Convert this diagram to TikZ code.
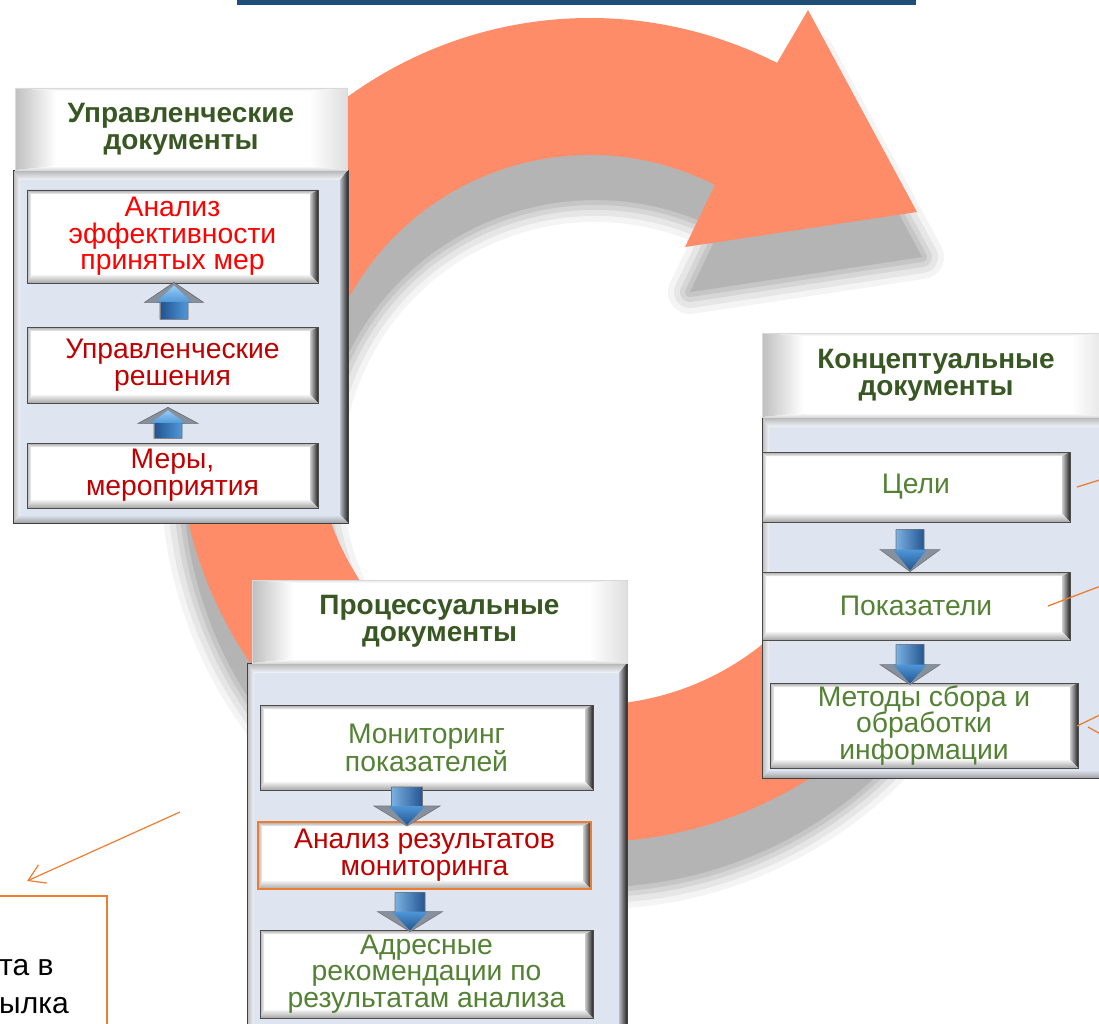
\documentclass[tikz,border=0pt]{standalone}
\usepackage{fontspec}
\setmainfont{Liberation Sans}
\usetikzlibrary{calc,arrows.meta}
\definecolor{ringc}{RGB}{255,140,105}
\definecolor{barc}{RGB}{31,78,121}
\definecolor{hdrg}{RGB}{56,87,35}
\definecolor{txtg}{RGB}{84,130,53}
\definecolor{panelbg}{RGB}{222,229,241}
\definecolor{orl}{RGB}{237,125,49}
\definecolor{dred}{RGB}{192,0,0}
\definecolor{arrlight}{RGB}{150,205,245}
\definecolor{arrmid}{RGB}{79,150,215}
\definecolor{arrdark}{RGB}{35,85,145}
\definecolor{arrgray}{RGB}{135,145,158}

\newcommand\ringpath{($(590,430)+(15:412)$) arc[start angle=15,end angle=297,radius=412] -- (808,10) -- (917,212) -- (685,247) -- ($(590,430)+(297:275)$) arc[start angle=297,end angle=15,radius=275] -- cycle}

\newcommand\bev[8]{%
  \coordinate (pNW) at (path picture bounding box.north west);
  \coordinate (pNE) at (path picture bounding box.north east);
  \coordinate (pSE) at (path picture bounding box.south east);
  \coordinate (pSW) at (path picture bounding box.south west);
  \coordinate (qNW) at ($(pNW)+(#4,#1)$);
  \coordinate (qNE) at ($(pNE)+(-#2,#1)$);
  \coordinate (qSE) at ($(pSE)+(-#2,-#3)$);
  \coordinate (qSW) at ($(pSW)+(#4,-#3)$);
  \shade[#5] (pNW)--(pNE)--(qNE)--(qNW)--cycle;
  \shade[#6] (pNE)--(pSE)--(qSE)--(qNE)--cycle;
  \shade[#7] (pSW)--(pSE)--(qSE)--(qSW)--cycle;
  \shade[#8] (pNW)--(pSW)--(qSW)--(qNW)--cycle;
}

\newcommand\hfont{\fontsize{28}{27}\selectfont\bfseries}
\newcommand\bfont{\fontsize{28.3}{26.7}\selectfont}

\tikzset{
  hdrbox/.style={draw=gray!30, line width=0.5, fill=white, inner sep=0, align=center,
    font=\hfont, text=hdrg,
    path picture={\bev{3}{38}{4}{41}{top color=gray!20,bottom color=white}{left color=white,right color=gray!25}{top color=white,bottom color=gray!30}{left color=gray!50,right color=white}}},
  bodybox/.style={draw=gray!50!black, line width=0.8, fill=panelbg, inner sep=0,
    path picture={\bev{10}{8}{8}{7}{top color=gray!60,bottom color=panelbg!40!white}{left color=gray!40!panelbg,right color=black!85}{top color=panelbg,bottom color=gray!75}{left color=gray!55,right color=panelbg!40!white}}},
  innerbox/.style={draw=black!70, line width=0.8, fill=white, inner sep=2, align=center, font=\bfont,
    path picture={\bev{4}{8}{8}{4}{top color=gray!70,bottom color=gray!10}{left color=gray!40,right color=black!85}{top color=gray!10,bottom color=gray!70}{left color=gray!60,right color=gray!10}}},
  orline/.style={draw=orl, line width=1.3},
  pics/uparr/.style n args={4}{code={%
    \fill[arrgray] (0,0) -- (#3,#2) -- (#4,#2) -- (#4,#1) -- (-#4,#1) -- (-#4,#2) -- (-#3,#2) -- cycle;
    \shade[top color=arrlight, bottom color=arrmid] (0,3) -- ({#4+4},{#2}) -- ({-#4-4},{#2}) -- cycle;
    \shade[left color=arrdark, right color=arrmid] ({-#4+1},#2) rectangle ({#4-1},{#1-1});
    \draw[black!60, line width=0.6] (0,0) -- (#3,#2) -- (#4,#2) -- (#4,#1) -- (-#4,#1) -- (-#4,#2) -- (-#3,#2) -- cycle;
  }},
  pics/downarr/.style n args={4}{code={%
    \fill[arrgray] (0,0) -- (#3,-#2) -- (#4,-#2) -- (#4,-#1) -- (-#4,-#1) -- (-#4,-#2) -- (-#3,-#2) -- cycle;
    \shade[left color=arrmid!75!white, right color=arrdark] (-#4,-#1) rectangle (#4,-#2);
    \shade[top color=arrmid, bottom color=arrdark] (0,-1) -- ({#4+3},-#2) -- ({-#4-3},-#2) -- cycle;
    \draw[black!55, line width=0.6] (0,0) -- (#3,-#2) -- (#4,-#2) -- (#4,-#1) -- (-#4,-#1) -- (-#4,-#2) -- (-#3,-#2) -- cycle;
  }},
}

\begin{document}
\begin{tikzpicture}[x=1pt,y=-1pt]
\useasboundingbox (0,0) rectangle (1099,1024);
\fill[white] (0,0) rectangle (1099,1024);

% ring shadow (soft)
\begin{scope}[shift={(5,45)}]
  \foreach \w/\a in {44/0.045,32/0.055,20/0.065,10/0.075,0.1/0.09}{
    \begin{scope}[transparency group, opacity=\a]
      \filldraw[black, line width=\w, line join=round] \ringpath;
    \end{scope}}
\end{scope}
% ring
\fill[ringc] \ringpath;

% top bar
\fill[barc] (237,0) rectangle (916,5);

% left panel
\node[bodybox, minimum width=335, minimum height=353] (Lbody) at (180.5,346.5) {};
\node[hdrbox, minimum width=332, minimum height=82] (Lhead) at (181,129) {Управленческие\\документы};
\node[innerbox, minimum width=291, minimum height=93, text=red] (L1) at (172.5,236.5) {Анализ\\эффективности\\принятых мер};
\node[innerbox, minimum width=291, minimum height=76, text=dred] (L2) at (172.5,365) {Управленческие\\решения};
\node[innerbox, minimum width=291, minimum height=65, text=dred] (L3) at (172.5,475.5) {Меры,\\мероприятия};
\pic at ($(L1.south)+(1.5,-1)$) {uparr={37}{20}{29.5}{14}};
\pic at ($(L2.south)+(-4.5,4)$) {uparr={31}{16}{30}{14}};

% right panel
\node[bodybox, minimum width=348, minimum height=361] (Rbody) at (936,597.5) {};
\node[hdrbox, minimum width=348, minimum height=84] (Rhead) at (936,375) {Концептуальные\\документы};
\node[innerbox, minimum width=308, minimum height=70, text=txtg] (R1) at (916,487) {Цели};
\node[innerbox, minimum width=308, minimum height=68, text=txtg] (R2) at (916,606) {Показатели};
\node[innerbox, minimum width=308, minimum height=85, text=txtg] (R3) at (924,725.5) {Методы сбора и\\обработки\\информации};
\pic at ($(R2.north)+(-6,0)$) {downarr={42}{22}{30}{14}};
\pic at ($(R3.north)+(-14,2)$) {downarr={40}{20}{30}{14}};

% bottom panel
\node[bodybox, minimum width=380, minimum height=377] (Bbody) at (437,851.5) {};
\node[hdrbox, minimum width=375, minimum height=83] (Bhead) at (439.5,621.5) {Процессуальные\\документы};
\node[innerbox, minimum width=333, minimum height=85, text=txtg] (B1) at (426.5,747.5) {Мониторинг\\показателей};
\node[innerbox, minimum width=333, minimum height=67, text=dred, draw=orl, line width=2] (B2) at (424.5,855.5) {Анализ результатов\\мониторинга};
\node[innerbox, minimum width=333, minimum height=88, text=txtg] (B3) at (426.5,974) {Адресные\\рекомендации по\\результатам анализа};
\pic at ($(B2.north)+(-17.5,5)$) {downarr={39}{20}{33}{15.5}};
\pic at ($(B3.north)+(-16.5,2)$) {downarr={39}{20}{32.5}{15}};

% orange connectors on the right
\coordinate (o1a) at (1077,487); \coordinate (o1b) at (1106,478);
\coordinate (o2a) at (1048,606); \coordinate (o2b) at (1106,584);
\coordinate (o3a) at (1077,726); \coordinate (o3b) at (1106,712);
\coordinate (o4a) at (1088,727); \coordinate (o4b) at (1106,737);
\draw[orline] (o1a) -- (o1b);
\draw[orline] (o2a) -- (o2b);
\draw[orline] (o3a) -- (o3b);
\draw[orline] (o4a) -- (o4b);

% note box bottom-left
\node[draw=orl, line width=1.5, minimum width=117, minimum height=144, inner sep=0] (note) at (48.5,968) {};
\node[anchor=base west, inner sep=0, font=\fontsize{30}{38}\selectfont] (note1) at (-1,975) {та в};
\node[anchor=base west, inner sep=0, font=\fontsize{30}{38}\selectfont] (note2) at (-1,1013) {ылка};
\coordinate (arrS) at (180,812);
\coordinate (arrE) at (27,881);
\draw[orl, line width=1.2, -{Straight Barb[length=16pt,width=20pt]}] (arrS) -- (arrE);
\end{tikzpicture}
\end{document}
